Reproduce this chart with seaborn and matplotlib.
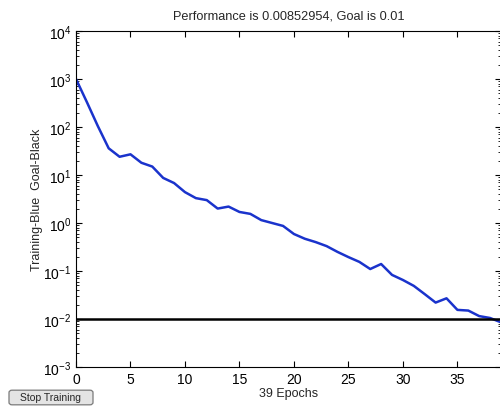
import matplotlib
matplotlib.use("Agg")
import matplotlib.pyplot as plt
from matplotlib import patches
from matplotlib.ticker import LogLocator, NullFormatter
import seaborn as sns
import pandas as pd
import numpy as np

# valores (error por epoca)
epocas = list(range(40))
rendimiento = [1000, 330, 105, 36, 24, 27, 18, 15, 8.7, 6.8,
               4.4, 3.3, 3.0, 2.0, 2.2, 1.7, 1.55, 1.15, 1.0, 0.87,
               0.59, 0.47, 0.40, 0.33, 0.25, 0.195, 0.155, 0.11, 0.14, 0.083,
               0.065, 0.049, 0.033, 0.022, 0.027, 0.0155, 0.015, 0.0115, 0.0105, 0.00852954]
meta = 0.01
titulo = "Performance is 0.00852954, Goal is 0.01"
etiqueta_y = "Training-Blue  Goal-Black"
etiqueta_x = "39 Epochs"

sns.set_style("white")
plt.rcParams['font.family'] = ['Liberation Sans', 'DejaVu Sans']
plt.rcParams['mathtext.fontset'] = 'custom'
plt.rcParams['mathtext.rm'] = 'Liberation Sans'

datos = pd.DataFrame({'Epoca': epocas, 'Rendimiento': rendimiento})

fig = plt.figure(figsize=(5, 4.1), dpi=100)
ax = fig.add_axes([0.152, 0.1024, 0.85, 0.8195])

sns.lineplot(data=datos, x='Epoca', y='Rendimiento', color='#1a33cc', linewidth=1.8, ax=ax)
ax.axhline(meta, color='black', linewidth=1.8)

ax.set_yscale('log')
ax.set_ylim(1e-3, 1e4)
ax.set_xlim(0, 39)
ax.set_xticks([0, 5, 10, 15, 20, 25, 30, 35])
ax.yaxis.set_major_locator(LogLocator(base=10, numticks=10))
ax.yaxis.set_minor_locator(LogLocator(base=10, subs=np.arange(2, 10), numticks=20))
ax.yaxis.set_minor_formatter(NullFormatter())
ax.tick_params(which='both', direction='in', top=True, right=True, bottom=True, left=True,
               labelsize=10, colors='black')
ax.tick_params(which='major', length=4, width=0.8)
ax.tick_params(which='minor', length=2, width=0.6)
for s in ax.spines.values():
    s.set_color('black')
    s.set_linewidth(0.8)

ax.set_title(titulo, fontsize=9.2, pad=9)
ax.set_xlabel(etiqueta_x, fontsize=9, labelpad=1)
ax.set_ylabel(etiqueta_y, fontsize=9, labelpad=0)

# boton "Stop Training"
boton = patches.FancyBboxPatch((10 / 500, 5 / 410), 82 / 500, 13 / 410,
                               boxstyle="round,pad=0.002,rounding_size=0.006",
                               transform=fig.transFigure, facecolor='#e4e4e4',
                               edgecolor='#7a7a7a', linewidth=0.9)
fig.patches.append(boton)
fig.text(51 / 500, 11.5 / 410, "Stop Training", fontsize=7.5, ha='center', va='center')

fig.savefig("out.png", dpi=100)
